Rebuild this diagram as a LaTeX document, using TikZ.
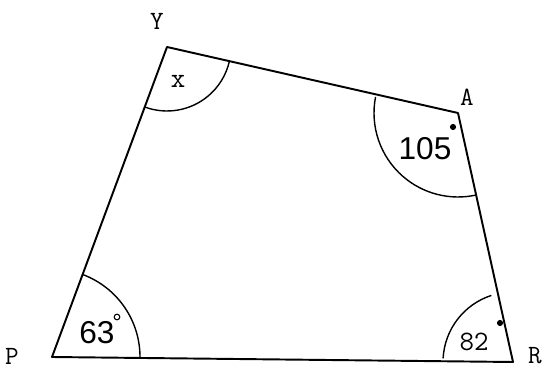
\documentclass[tikz,border=0pt]{standalone}
\usepackage{fontspec}
\setsansfont{Liberation Sans}
\usetikzlibrary{positioning}
\tikzset{
  side/.style={draw=black,line width=1.1pt,line join=round},
  arcline/.style={draw=black,line width=0.8pt},
  vlab/.style={font=\ttfamily\fontsize{15}{15}\selectfont,inner sep=0pt},
  alab/.style={font=\sffamily\fontsize{18}{18}\selectfont,inner sep=0pt},
  tlab/.style={font=\ttfamily\fontsize{16}{16}\selectfont,inner sep=0pt},
  degdot/.style={circle,fill=black,inner sep=0pt,minimum size=3.5pt},
  degring/.style={circle,draw=black,line width=0.6pt,inner sep=0pt,minimum size=3.2pt},
}

\begin{document}
\begin{tikzpicture}[x=0.02cm,y=0.02cm]
\useasboundingbox (0,0) rectangle (550,371);

% ---- corners ----
\coordinate (p) at (52,14);
\coordinate (y) at (167,324);
\coordinate (a) at (458,258);
\coordinate (r) at (513,9);
\draw[side] (p) -- (y) -- (a) -- (r) -- cycle;

% ---- corner letters ----
\node[vlab] (ly) at (157,350) {Y};
\node[vlab] (la) at (467,274) {A};
\node[vlab] (lp) at (12,15) {P};
\node[vlab] (lr) at (535,15) {R};

% ---- angle arcs ----
\draw[arcline] ([shift={(-0.6:88)}]p) arc[start angle=-0.6,end angle=69.6,radius=88];
\draw[arcline] ([shift={(249.6:64)}]y) arc[start angle=249.6,end angle=347.2,radius=64];
\draw[arcline] ([shift={(169:84)}]a) arc[start angle=169,end angle=282.5,radius=84];
\draw[arcline] ([shift={(108:70)}]r) arc[start angle=108,end angle=177,radius=70];

% ---- angle values ----
\node[tlab] (vx) at (178,290) {x};
\node[alab] (v105) at (425,222) {105};
\node[degdot] (d105) at (453,244) {};
\node[alab] (v63) at (97,38) {63};
\node[degring] (d63) at (117,54) {};
\node[tlab] (v82) at (474,29) {82};
\node[degdot] (d82) at (500,48) {};

\end{tikzpicture}
\end{document}
